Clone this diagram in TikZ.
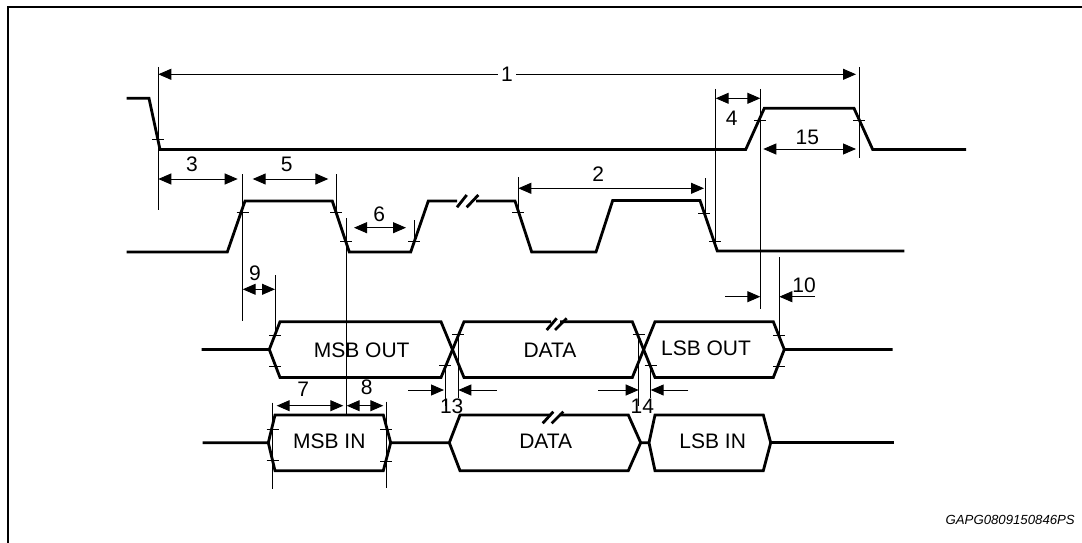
\documentclass[tikz,border=0pt]{standalone}
\usepackage{fontspec}
\setmainfont{Liberation Sans}
\usetikzlibrary{arrows.meta}
\begin{document}
\begin{tikzpicture}[x=1pt,y=-1pt,
  sig/.style={line width=2.8pt},
  thin/.style={line width=1pt},
  dimarr/.style={thin,{Triangle[length=13pt,width=11pt]}-{Triangle[length=13pt,width=11pt]}},
  onearr/.style={thin,-{Triangle[length=13pt,width=11pt]}},
  lbl/.style={inner sep=0pt, font=\fontsize{21}{24}\selectfont},
  frame/.style={line width=2pt}]
\useasboundingbox (0,0) rectangle (1082,543);
% frame
\draw[frame] (7.5,543) -- (7.5,6.7) -- (1082,6.7);

% ---- CS signal
\draw[sig] (126.7,98.3) -- (149,98.3) -- (160,149.5) -- (745.7,149.5) -- (764.3,108.3) -- (854,108.3) -- (872.7,149.5) -- (966,149.5);
% ---- SCK signal
\draw[sig] (126.7,252) -- (227.3,252) -- (245,201) -- (332.3,201) -- (349.3,252) -- (410.7,252) -- (428.3,201) -- (457,201);
\draw[sig] (457,207.3) -- (466.7,195);
\draw[sig] (466.7,207.3) -- (478.3,195);
\draw[sig] (476,201) -- (515,201) -- (531.7,252) -- (596,252) -- (612.7,200.5) -- (700,200.5) -- (717.3,251) -- (904.3,251);

% ---- Row 3 bus (SDO)
\draw[sig] (201.7,349.5) -- (269.3,349.5) -- (280,321.7) -- (441,321.7) -- (464,377.5) -- (632.3,377.5) -- (655,321.7) -- (773.3,321.7) -- (784.3,349.5) -- (892.7,349.5);
\draw[sig] (269.3,349.5) -- (280,377.5) -- (441,377.5) -- (464,321.7) -- (551,321.7);
\draw[sig] (560,321.7) -- (632.3,321.7) -- (655,377.5) -- (773.3,377.5) -- (784.3,349.5);
\draw[sig] (546.7,330) -- (556.7,318.3);
\draw[sig] (555,330) -- (566.7,318.3);

% ---- Row 4 bus (SDI)
\draw[sig] (202.7,442.7) -- (268.3,442.7) -- (275,415) -- (383.3,415) -- (390.7,442.7) -- (383.3,470.7) -- (275,470.7) -- (268.3,442.7);
\draw[sig] (390.7,442.7) -- (449.3,442.7) -- (460,415) -- (550.3,415);
\draw[sig] (559.3,415) -- (628.3,415) -- (640.7,442.7) -- (628.3,470.7) -- (460,470.7) -- (449.3,442.7);
\draw[sig] (542.7,423.3) -- (553.3,411.7);
\draw[sig] (551.7,423.3) -- (563.3,411.7);
\draw[sig] (640.7,442.7) -- (649,442.7) -- (655,415) -- (763.3,415) -- (770.7,442.7) -- (763.3,470.7) -- (655,470.7) -- (649,442.7);
\draw[sig] (770.7,442.7) -- (894.3,442.7);

% ---- bus texts
\node[lbl] (msbout) at (361.7,350) {MSB OUT};
\node[lbl] (data1) at (550,350) {DATA};
\node[lbl] (lsbout) at (706,348) {LSB OUT};
\node[lbl] (msbin) at (329.3,441.5) {MSB IN};
\node[lbl] (data2) at (545.7,441) {DATA};
\node[lbl] (lsbin) at (712.7,441.5) {LSB IN};

% ---- reference verticals
\foreach \x/\ya/\yb in {158.3/67/210, 242.7/174/321, 336/174/213, 346/218/414,
  414.3/220/244, 518.3/177/213, 705/178/213, 715.7/89/242, 760.3/89/309,
  859.3/67/158, 779.3/257/335, 275/275/335, 445/365/406, 458.3/334/398,
  638.7/334/406, 650.7/365/398, 272.7/402.7/489.3, 386.3/401.7/488.3}
  \draw[thin] (\x,\ya) -- (\x,\yb);

% ---- crossing ticks
\foreach \x/\y in {158.3/139, 760.3/120.7, 859.3/120.7,
  242.7/212.7, 336/212.7, 346/241, 414.3/241, 518.3/212.7, 704/213, 715/241,
  275/335, 275/366, 458.3/334.3, 445/365, 638.7/334.3, 650.7/365, 779.3/335, 779.3/366,
  272.7/429.3, 272.7/460, 386.3/429.3, 386.3/461}
  \draw[thin] (\x,\y) +(-6,0) -- +(6,0);

% ---- dimension arrows
\draw[dimarr] (158.3,74.3) -- (856,74.3);
\node[lbl, fill=white, inner xsep=3pt, inner ysep=1pt] (t1) at (507,74.3) {1};
\draw[dimarr] (158.3,179) -- (237.7,179);
\node[lbl] (t3) at (192,164) {3};
\draw[dimarr] (252.7,179) -- (328.3,179);
\node[lbl] (t5) at (286.7,164) {5};
\draw[dimarr] (354,227.7) -- (406,227.7);
\node[lbl] (t6) at (379.3,214) {6};
\draw[dimarr] (518.3,188.3) -- (704,188.3);
\node[lbl] (t2) at (598.3,174) {2};
\draw[dimarr] (715.7,98.3) -- (760.3,98.3);
\node[lbl] (t4) at (731.7,118.3) {4};
\draw[dimarr] (763.3,149) -- (856,149);
\node[lbl] (t15) at (807.3,137.3) {15};
\draw[dimarr] (242.7,289.3) -- (275,289.3);
\node[lbl] (t9) at (255,273.3) {9};
\draw[onearr] (725,296.7) -- (760.3,296.7);
\draw[onearr] (815,296.7) -- (779.3,296.7);
\node[lbl] (t10) at (804,285.5) {10};
\draw[dimarr] (276.7,405.7) -- (343.3,405.7);
\node[lbl] (t7) at (303.3,389.3) {7};
\draw[dimarr] (346.7,405.7) -- (383.3,405.7);
\node[lbl] (t8) at (366.7,387.3) {8};
\draw[onearr] (408,390) -- (444,390);
\draw[onearr] (496.7,390) -- (458.3,390);
\node[lbl] (t13) at (451.7,406) {13};
\draw[onearr] (598.3,390) -- (638.7,390);
\draw[onearr] (688.3,390) -- (650.7,390);
\node[lbl] (t14) at (642.3,406) {14};

% ---- figure code
\node[anchor=east, inner sep=0pt, font=\itshape\fontsize{13.2}{15}\selectfont] (code) at (1075,520) {GAPG0809150846PS};
\end{tikzpicture}
\end{document}
